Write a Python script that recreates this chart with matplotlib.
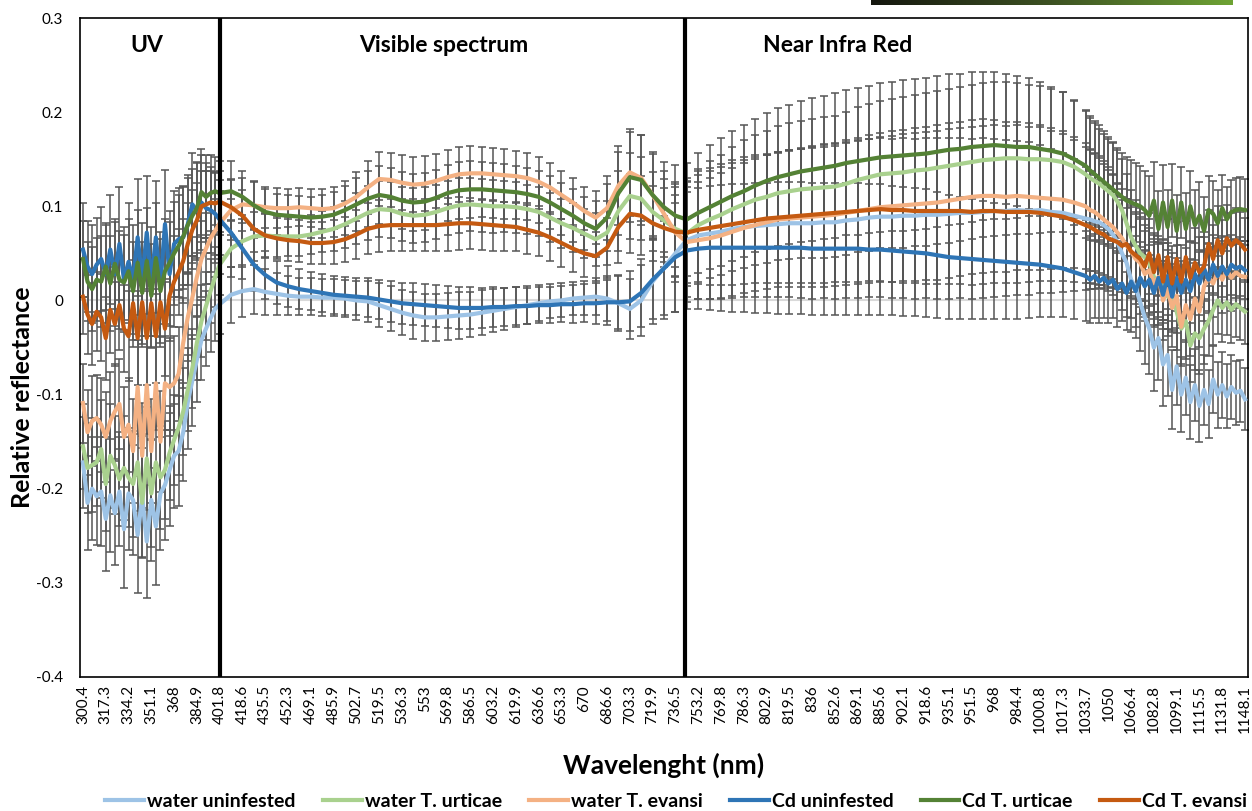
import matplotlib.pyplot as plt
import numpy as np
from matplotlib.colors import LinearSegmentedColormap

plt.rcParams['font.family'] = ['Lato', 'DejaVu Sans']

# spectrometer band index of each sample (labels every 10 bands)
channel = list(range(0, 61, 2)) + list(range(65, 441, 5)) + list(range(442, 511, 2))

wavelength_labels = ['300.4', '317.3', '334.2', '351.1', '368', '384.9', '401.8', '418.6', '435.5',
                     '452.3', '469.1', '485.9', '502.7', '519.5', '536.3', '553', '569.8', '586.5',
                     '603.2', '619.9', '636.6', '653.3', '670', '686.6', '703.3', '719.9', '736.5',
                     '753.2', '769.8', '786.3', '802.9', '819.5', '836', '852.6', '869.1', '885.6',
                     '902.1', '918.6', '935.1', '951.5', '968', '984.4', '1000.8', '1017.3', '1033.7',
                     '1050', '1066.4', '1082.8', '1099.1', '1115.5', '1131.8', '1148.1']

# ---- mean relative reflectance ----
water_uninfested = [
    -0.172, -0.215, -0.200, -0.208, -0.203, -0.232, -0.207, -0.226, -0.203, -0.243, -0.205, -0.212,
    -0.249, -0.209, -0.256, -0.212, -0.240, -0.205, -0.196, -0.180, -0.165, -0.160, -0.140, -0.108,
    -0.085, -0.063, -0.042, -0.030, -0.019, -0.009, -0.004,
    0.006, 0.010, 0.012, 0.009, 0.007, 0.005, 0.004, 0.004,
    0.003, 0.003, 0.002, 0.000, -0.001, -0.005, -0.009, -0.013,
    -0.016, -0.018, -0.018, -0.017, -0.016, -0.015, -0.013, -0.011,
    -0.009, -0.007, -0.005, -0.003, -0.001, 0.000, 0.002, 0.003,
    0.004, 0.002, -0.003, -0.009, 0.000, 0.020, 0.035, 0.050,
    0.064, 0.069, 0.071, 0.073, 0.076, 0.078, 0.079, 0.080,
    0.081, 0.082, 0.082, 0.082, 0.083, 0.083, 0.085, 0.086,
    0.088, 0.089, 0.089, 0.090, 0.090, 0.091, 0.091, 0.092,
    0.093, 0.093, 0.094, 0.095, 0.095, 0.096, 0.095, 0.096,
    0.094, 0.093, 0.090, 0.087,
    0.086, 0.084, 0.083, 0.080, 0.076, 0.070, 0.062, 0.050, 0.040, 0.022, 0.014, -0.002,
    -0.018, -0.030, -0.050, -0.040, -0.068, -0.058, -0.095, -0.070, -0.100, -0.082, -0.108, -0.090,
    -0.112, -0.095, -0.110, -0.084, -0.100, -0.090, -0.102, -0.092, -0.098, -0.096, -0.105]

water_urticae = [
    -0.155, -0.178, -0.175, -0.172, -0.158, -0.195, -0.165, -0.175, -0.190, -0.178, -0.188, -0.195,
    -0.172, -0.215, -0.168, -0.205, -0.172, -0.188, -0.180, -0.162, -0.148, -0.135, -0.118, -0.095,
    -0.072, -0.045, -0.022, -0.006, 0.010, 0.025, 0.038,
    0.055, 0.063, 0.068, 0.069, 0.068, 0.068, 0.068, 0.070,
    0.073, 0.076, 0.081, 0.087, 0.093, 0.097, 0.096, 0.092,
    0.090, 0.091, 0.094, 0.098, 0.101, 0.102, 0.101, 0.100,
    0.100, 0.099, 0.097, 0.094, 0.088, 0.082, 0.077, 0.071,
    0.065, 0.072, 0.095, 0.111, 0.108, 0.094, 0.085, 0.076,
    0.071, 0.080, 0.086, 0.091, 0.097, 0.102, 0.107, 0.110,
    0.114, 0.116, 0.118, 0.119, 0.120, 0.121, 0.124, 0.128,
    0.131, 0.134, 0.135, 0.136, 0.138, 0.139, 0.141, 0.143,
    0.145, 0.147, 0.149, 0.150, 0.151, 0.151, 0.150, 0.150,
    0.149, 0.147, 0.142, 0.134,
    0.130, 0.127, 0.124, 0.120, 0.116, 0.112, 0.105, 0.096, 0.082, 0.067, 0.058, 0.050,
    0.046, 0.040, 0.025, 0.018, 0.022, 0.004, 0.008, -0.012, -0.030, -0.022, -0.048, -0.035,
    -0.040, -0.030, -0.022, -0.010, 0.000, -0.008, -0.002, -0.010, -0.004, -0.008, -0.012]

water_evansi = [
    -0.109, -0.140, -0.128, -0.125, -0.132, -0.145, -0.128, -0.118, -0.110, -0.145, -0.132, -0.160,
    -0.092, -0.165, -0.090, -0.160, -0.088, -0.150, -0.088, -0.092, -0.088, -0.078, -0.045, -0.018,
    0.003, 0.025, 0.044, 0.055, 0.066, 0.074, 0.082,
    0.096, 0.102, 0.101, 0.099, 0.098, 0.098, 0.099, 0.098,
    0.097, 0.098, 0.103, 0.110, 0.120, 0.129, 0.128, 0.125,
    0.123, 0.124, 0.127, 0.131, 0.134, 0.135, 0.135, 0.134,
    0.133, 0.132, 0.130, 0.126, 0.120, 0.112, 0.104, 0.095,
    0.088, 0.098, 0.122, 0.136, 0.130, 0.112, 0.092, 0.072,
    0.062, 0.064, 0.066, 0.069, 0.073, 0.077, 0.080, 0.083,
    0.086, 0.087, 0.088, 0.089, 0.090, 0.091, 0.093, 0.095,
    0.097, 0.099, 0.100, 0.101, 0.102, 0.103, 0.104, 0.106,
    0.108, 0.110, 0.111, 0.111, 0.110, 0.111, 0.110, 0.109,
    0.108, 0.107, 0.104, 0.100,
    0.096, 0.094, 0.090, 0.086, 0.082, 0.078, 0.072, 0.066, 0.058, 0.052, 0.044, 0.040,
    0.028, 0.032, 0.018, 0.025, 0.000, 0.012, -0.008, 0.005, -0.028, -0.005, -0.020, 0.002,
    -0.012, 0.015, 0.024, 0.018, 0.030, 0.022, 0.032, 0.024, 0.030, 0.026, 0.025]

cd_uninfested = [
    0.054, 0.036, 0.028, 0.038, 0.044, 0.028, 0.054, 0.028, 0.060, 0.022, 0.041, 0.022,
    0.067, 0.022, 0.072, 0.020, 0.067, 0.017, 0.081, 0.028, 0.060, 0.065, 0.067, 0.081,
    0.102, 0.095, 0.104, 0.098, 0.096, 0.092, 0.086,
    0.072, 0.055, 0.038, 0.027, 0.019, 0.015, 0.012, 0.010,
    0.008, 0.006, 0.005, 0.004, 0.003, 0.001, -0.001, -0.003,
    -0.004, -0.005, -0.006, -0.007, -0.008, -0.008, -0.008, -0.007,
    -0.007, -0.006, -0.006, -0.005, -0.005, -0.004, -0.004, -0.003,
    -0.003, -0.002, -0.002, -0.001, 0.008, 0.022, 0.034, 0.046,
    0.053, 0.055, 0.056, 0.056, 0.056, 0.056, 0.056, 0.056,
    0.056, 0.056, 0.056, 0.055, 0.055, 0.055, 0.055, 0.055,
    0.054, 0.054, 0.053, 0.052, 0.051, 0.050, 0.048, 0.046,
    0.045, 0.044, 0.043, 0.042, 0.041, 0.040, 0.039, 0.038,
    0.036, 0.034, 0.030, 0.026,
    0.022, 0.026, 0.020, 0.024, 0.018, 0.022, 0.012, 0.018, 0.008, 0.020, 0.010, 0.024,
    0.015, 0.022, 0.008, 0.024, 0.006, 0.026, 0.004, 0.024, 0.008, 0.022, 0.010, 0.028,
    0.018, 0.034, 0.022, 0.038, 0.026, 0.036, 0.028, 0.038, 0.034, 0.036, 0.032]

cd_urticae = [
    0.044, 0.020, 0.012, 0.022, 0.020, 0.036, 0.018, 0.039, 0.022, 0.019, 0.031, 0.010,
    0.040, 0.008, 0.042, 0.005, 0.045, 0.010, 0.031, 0.040, 0.050, 0.058, 0.068, 0.080,
    0.090, 0.098, 0.115, 0.110, 0.114, 0.116, 0.114,
    0.116, 0.110, 0.101, 0.094, 0.091, 0.090, 0.089, 0.088,
    0.089, 0.091, 0.096, 0.102, 0.108, 0.112, 0.110, 0.106,
    0.104, 0.105, 0.109, 0.114, 0.117, 0.118, 0.118, 0.117,
    0.116, 0.115, 0.113, 0.110, 0.104, 0.097, 0.090, 0.082,
    0.076, 0.088, 0.114, 0.131, 0.128, 0.112, 0.099, 0.090,
    0.086, 0.093, 0.099, 0.105, 0.111, 0.116, 0.122, 0.127,
    0.131, 0.134, 0.137, 0.139, 0.141, 0.143, 0.146, 0.148,
    0.150, 0.152, 0.153, 0.154, 0.155, 0.156, 0.158, 0.160,
    0.161, 0.163, 0.164, 0.165, 0.164, 0.163, 0.163, 0.161,
    0.159, 0.156, 0.150, 0.143,
    0.138, 0.134, 0.130, 0.126, 0.122, 0.118, 0.114, 0.110, 0.106, 0.104, 0.102, 0.100,
    0.096, 0.090, 0.106, 0.076, 0.104, 0.078, 0.106, 0.074, 0.104, 0.076, 0.100, 0.080,
    0.090, 0.074, 0.096, 0.092, 0.082, 0.098, 0.086, 0.094, 0.096, 0.097, 0.096]

cd_evansi = [
    0.004, -0.015, -0.025, -0.012, -0.018, -0.040, -0.010, -0.025, -0.005, -0.030, -0.038, -0.003,
    -0.040, -0.002, -0.040, -0.003, -0.038, -0.002, -0.030, 0.005, 0.020, 0.030, 0.042, 0.060,
    0.075, 0.085, 0.100, 0.102, 0.104, 0.103, 0.105,
    0.099, 0.090, 0.076, 0.069, 0.066, 0.064, 0.063, 0.061,
    0.061, 0.062, 0.065, 0.070, 0.076, 0.079, 0.080, 0.080,
    0.080, 0.080, 0.080, 0.081, 0.082, 0.082, 0.081, 0.080,
    0.079, 0.078, 0.075, 0.072, 0.067, 0.061, 0.055, 0.050,
    0.047, 0.056, 0.078, 0.092, 0.090, 0.082, 0.077, 0.073,
    0.072, 0.075, 0.077, 0.079, 0.081, 0.083, 0.085, 0.087,
    0.088, 0.089, 0.090, 0.091, 0.092, 0.093, 0.094, 0.095,
    0.096, 0.097, 0.096, 0.096, 0.095, 0.095, 0.095, 0.095,
    0.095, 0.094, 0.095, 0.095, 0.094, 0.094, 0.094, 0.093,
    0.091, 0.089, 0.085, 0.080,
    0.078, 0.075, 0.072, 0.070, 0.066, 0.064, 0.062, 0.058, 0.060, 0.052, 0.048, 0.044,
    0.036, 0.050, 0.030, 0.048, 0.020, 0.046, 0.018, 0.044, 0.020, 0.046, 0.024, 0.040,
    0.030, 0.036, 0.060, 0.044, 0.064, 0.050, 0.066, 0.058, 0.064, 0.060, 0.054]

# ---- error bars (half length) ----
err_water_uninfested = [
    0.048, 0.050, 0.055, 0.052, 0.058, 0.055, 0.060, 0.055, 0.058, 0.062, 0.060, 0.058,
    0.062, 0.065, 0.060, 0.065, 0.062, 0.060, 0.058, 0.060, 0.055, 0.058, 0.052, 0.050,
    0.048, 0.045, 0.042, 0.040, 0.036, 0.034, 0.032,
    0.030, 0.028, 0.026, 0.024, 0.022, 0.021, 0.020, 0.020,
    0.020, 0.020, 0.020, 0.021, 0.022, 0.023, 0.024, 0.024,
    0.025, 0.025, 0.025, 0.025, 0.025, 0.024, 0.024, 0.023,
    0.022, 0.021, 0.020, 0.019, 0.018, 0.018, 0.018, 0.018,
    0.020, 0.024, 0.030, 0.032, 0.038, 0.045, 0.055, 0.062,
    0.066, 0.068, 0.070, 0.072, 0.073, 0.074, 0.075, 0.076,
    0.077, 0.078, 0.079, 0.080, 0.080, 0.081, 0.082, 0.083,
    0.084, 0.085, 0.086, 0.087, 0.088, 0.088, 0.089, 0.090,
    0.090, 0.091, 0.091, 0.091, 0.090, 0.090, 0.089, 0.088,
    0.086, 0.084, 0.080, 0.076,
    0.074, 0.072, 0.070, 0.068, 0.066, 0.064, 0.062, 0.060, 0.058, 0.056, 0.054, 0.052,
    0.050, 0.048, 0.046, 0.045, 0.044, 0.043, 0.042, 0.041, 0.040, 0.040, 0.039, 0.038,
    0.038, 0.037, 0.036, 0.036, 0.035, 0.035, 0.034, 0.034, 0.034, 0.033, 0.033]

err_water_urticae = [
    0.045, 0.048, 0.050, 0.046, 0.052, 0.050, 0.055, 0.052, 0.050, 0.055, 0.053, 0.056,
    0.052, 0.058, 0.055, 0.057, 0.054, 0.055, 0.052, 0.050, 0.048, 0.050, 0.046, 0.044,
    0.042, 0.040, 0.038, 0.036, 0.034, 0.032, 0.032,
    0.030, 0.028, 0.026, 0.024, 0.022, 0.021, 0.021, 0.021,
    0.022, 0.023, 0.025, 0.027, 0.029, 0.030, 0.030, 0.029,
    0.029, 0.029, 0.029, 0.029, 0.029, 0.028, 0.028, 0.028,
    0.027, 0.027, 0.026, 0.026, 0.026, 0.026, 0.026, 0.026,
    0.028, 0.034, 0.042, 0.046, 0.044, 0.042, 0.044, 0.050,
    0.056, 0.060, 0.062, 0.064, 0.066, 0.068, 0.069, 0.070,
    0.071, 0.072, 0.073, 0.074, 0.075, 0.075, 0.076, 0.077,
    0.078, 0.078, 0.079, 0.080, 0.080, 0.081, 0.081, 0.082,
    0.082, 0.082, 0.082, 0.082, 0.081, 0.080, 0.079, 0.078,
    0.076, 0.074, 0.071, 0.068,
    0.066, 0.064, 0.062, 0.060, 0.058, 0.056, 0.055, 0.054, 0.052, 0.050, 0.049, 0.048,
    0.047, 0.046, 0.045, 0.044, 0.043, 0.042, 0.042, 0.041, 0.040, 0.040, 0.039, 0.039,
    0.038, 0.038, 0.037, 0.037, 0.036, 0.036, 0.035, 0.035, 0.035, 0.034, 0.034]

err_water_evansi = [
    0.042, 0.045, 0.048, 0.046, 0.050, 0.048, 0.052, 0.050, 0.048, 0.053, 0.050, 0.055,
    0.050, 0.056, 0.052, 0.055, 0.050, 0.054, 0.050, 0.052, 0.050, 0.050, 0.048, 0.046,
    0.044, 0.042, 0.040, 0.038, 0.036, 0.034, 0.034,
    0.032, 0.028, 0.025, 0.022, 0.021, 0.020, 0.020, 0.020,
    0.021, 0.022, 0.024, 0.026, 0.028, 0.029, 0.029, 0.029,
    0.029, 0.029, 0.029, 0.029, 0.029, 0.029, 0.028, 0.028,
    0.028, 0.027, 0.027, 0.026, 0.026, 0.026, 0.026, 0.026,
    0.028, 0.034, 0.042, 0.046, 0.046, 0.044, 0.046, 0.052,
    0.058, 0.062, 0.064, 0.066, 0.068, 0.069, 0.070, 0.071,
    0.072, 0.073, 0.074, 0.075, 0.076, 0.076, 0.077, 0.078,
    0.079, 0.079, 0.080, 0.080, 0.081, 0.081, 0.082, 0.082,
    0.082, 0.082, 0.082, 0.081, 0.080, 0.079, 0.078, 0.077,
    0.075, 0.073, 0.070, 0.067,
    0.065, 0.063, 0.061, 0.059, 0.057, 0.055, 0.053, 0.052, 0.050, 0.049, 0.048, 0.047,
    0.046, 0.045, 0.044, 0.043, 0.042, 0.042, 0.041, 0.040, 0.040, 0.039, 0.039, 0.038,
    0.038, 0.037, 0.037, 0.036, 0.036, 0.035, 0.035, 0.035, 0.034, 0.034, 0.034]

err_cd_uninfested = [
    0.050, 0.048, 0.052, 0.050, 0.055, 0.052, 0.058, 0.055, 0.060, 0.056, 0.062, 0.058,
    0.062, 0.060, 0.060, 0.058, 0.060, 0.056, 0.058, 0.055, 0.056, 0.054, 0.055, 0.052,
    0.055, 0.052, 0.050, 0.048, 0.046, 0.044, 0.042,
    0.036, 0.032, 0.028, 0.025, 0.023, 0.022, 0.021, 0.020,
    0.020, 0.020, 0.020, 0.020, 0.021, 0.021, 0.022, 0.022,
    0.022, 0.022, 0.022, 0.022, 0.022, 0.022, 0.021, 0.021,
    0.020, 0.020, 0.019, 0.019, 0.019, 0.019, 0.020, 0.020,
    0.022, 0.024, 0.028, 0.032, 0.036, 0.042, 0.050, 0.058,
    0.062, 0.064, 0.066, 0.067, 0.068, 0.068, 0.069, 0.069,
    0.070, 0.070, 0.070, 0.070, 0.070, 0.070, 0.070, 0.070,
    0.070, 0.070, 0.069, 0.069, 0.068, 0.068, 0.067, 0.066,
    0.065, 0.064, 0.063, 0.062, 0.061, 0.060, 0.058, 0.056,
    0.054, 0.052, 0.050, 0.048,
    0.046, 0.045, 0.044, 0.043, 0.042, 0.041, 0.040, 0.040, 0.039, 0.039, 0.038, 0.038,
    0.037, 0.037, 0.036, 0.036, 0.036, 0.035, 0.035, 0.035, 0.034, 0.034, 0.034, 0.033,
    0.033, 0.033, 0.033, 0.032, 0.032, 0.032, 0.032, 0.032, 0.031, 0.031, 0.031]

err_cd_urticae = [
    0.040, 0.042, 0.045, 0.044, 0.048, 0.046, 0.050, 0.048, 0.052, 0.050, 0.055, 0.052,
    0.056, 0.054, 0.056, 0.055, 0.058, 0.055, 0.056, 0.055, 0.055, 0.054, 0.052, 0.050,
    0.050, 0.048, 0.046, 0.044, 0.040, 0.036, 0.034,
    0.032, 0.028, 0.026, 0.024, 0.022, 0.022, 0.022, 0.022,
    0.023, 0.024, 0.026, 0.028, 0.030, 0.031, 0.031, 0.030,
    0.030, 0.030, 0.030, 0.030, 0.030, 0.030, 0.029, 0.029,
    0.029, 0.028, 0.028, 0.028, 0.028, 0.028, 0.028, 0.028,
    0.030, 0.036, 0.044, 0.048, 0.048, 0.046, 0.048, 0.054,
    0.060, 0.064, 0.066, 0.068, 0.069, 0.070, 0.071, 0.072,
    0.073, 0.074, 0.075, 0.076, 0.076, 0.077, 0.077, 0.078,
    0.078, 0.079, 0.079, 0.080, 0.080, 0.080, 0.080, 0.080,
    0.080, 0.080, 0.079, 0.078, 0.077, 0.075, 0.073, 0.071,
    0.068, 0.065, 0.062, 0.058,
    0.056, 0.054, 0.052, 0.051, 0.050, 0.049, 0.048, 0.047, 0.046, 0.045, 0.044, 0.043,
    0.042, 0.042, 0.041, 0.040, 0.040, 0.039, 0.039, 0.038, 0.038, 0.038, 0.037, 0.037,
    0.036, 0.036, 0.036, 0.035, 0.035, 0.035, 0.034, 0.034, 0.034, 0.034, 0.033]

err_cd_evansi = [
    0.040, 0.042, 0.044, 0.042, 0.046, 0.044, 0.046, 0.045, 0.048, 0.046, 0.048, 0.046,
    0.050, 0.048, 0.050, 0.048, 0.050, 0.048, 0.050, 0.048, 0.048, 0.046, 0.045, 0.044,
    0.042, 0.040, 0.038, 0.036, 0.034, 0.032, 0.032,
    0.030, 0.027, 0.025, 0.023, 0.022, 0.022, 0.022, 0.022,
    0.022, 0.023, 0.024, 0.026, 0.027, 0.028, 0.028, 0.028,
    0.028, 0.028, 0.028, 0.028, 0.028, 0.027, 0.027, 0.027,
    0.026, 0.026, 0.026, 0.025, 0.025, 0.025, 0.025, 0.025,
    0.026, 0.032, 0.038, 0.042, 0.042, 0.040, 0.042, 0.048,
    0.054, 0.058, 0.061, 0.063, 0.065, 0.066, 0.067, 0.068,
    0.069, 0.070, 0.071, 0.072, 0.073, 0.073, 0.074, 0.075,
    0.075, 0.076, 0.076, 0.077, 0.077, 0.078, 0.078, 0.078,
    0.078, 0.078, 0.078, 0.077, 0.076, 0.075, 0.074, 0.072,
    0.070, 0.068, 0.065, 0.062,
    0.060, 0.058, 0.056, 0.054, 0.052, 0.051, 0.050, 0.049, 0.048, 0.047, 0.046, 0.045,
    0.044, 0.043, 0.042, 0.042, 0.041, 0.040, 0.040, 0.039, 0.039, 0.038, 0.038, 0.037,
    0.037, 0.037, 0.036, 0.036, 0.036, 0.035, 0.035, 0.035, 0.034, 0.034, 0.034]

series = [
    ('water uninfested', water_uninfested, err_water_uninfested, '#9DC3E6'),
    ('water T. urticae', water_urticae, err_water_urticae, '#A9D18E'),
    ('water T. evansi', water_evansi, err_water_evansi, '#F4B183'),
    ('Cd uninfested', cd_uninfested, err_cd_uninfested, '#2E75B6'),
    ('Cd T. urticae', cd_urticae, err_cd_urticae, '#548235'),
    ('Cd T. evansi', cd_evansi, err_cd_evansi, '#C55A11'),
]


def reflectance_graph():
    fig = plt.figure(figsize=(12.52, 8.11), dpi=100)
    ax = fig.add_axes([80 / 1252, 134 / 811, 1168 / 1252, 659 / 811])

    ax.axhline(0, color='#D9D9D9', linewidth=1.5, zorder=1)

    for name, vals, err, col in series:
        ax.errorbar(channel, vals, yerr=err, fmt='none', ecolor='#555555',
                    elinewidth=1.1, capsize=2.8, capthick=1.1, zorder=2)
    for name, vals, err, col in series:
        ax.plot(channel, vals, color=col, linewidth=3, label=name, zorder=3)

    # region borders
    ax.axvline(60, color='black', linewidth=3, zorder=5)
    ax.axvline(264, color='black', linewidth=3, zorder=5)
    for xf, txt in [(0.0574, 'UV'), (0.3116, 'Visible spectrum'), (0.649, 'Near Infra Red')]:
        ax.text(xf, 0.958, txt, transform=ax.transAxes, ha='center', va='center',
                fontsize=16.5, fontweight='bold')

    ax.set_xlim(-1.3, 511.3)
    ax.set_ylim(-0.4, 0.3)
    ax.set_xticks(range(0, 511, 10))
    ax.set_xticklabels(wavelength_labels, rotation=90, fontsize=11)
    ax.set_yticks([-0.4, -0.3, -0.2, -0.1, 0, 0.1, 0.2, 0.3])
    ax.set_yticklabels(['-0.4', '-0.3', '-0.2', '-0.1', '0', '0.1', '0.2', '0.3'], fontsize=11)
    ax.tick_params(axis='both', length=0)
    ax.tick_params(axis='y', pad=12)
    ax.tick_params(axis='x', pad=6)
    for sp in ax.spines.values():
        sp.set_linewidth(1.2)

    ax.set_xlabel('Wavelenght (nm)', fontsize=19, fontweight='bold', labelpad=14)
    ax.set_ylabel('Relative reflectance', fontsize=18, fontweight='bold')
    ax.yaxis.set_label_coords(-0.039, 0.425)

    fig.legend(loc='center', bbox_to_anchor=(0.54, 0.012), ncol=6, frameon=False,
               prop={'size': 14, 'weight': 'bold'}, handlelength=2.0, handletextpad=0.15,
               columnspacing=1.4)

    # decorative bar at the top edge
    bar = fig.add_axes([871 / 1252, 806 / 811, 362 / 1252, 5 / 811])
    grad = np.linspace(0, 1, 256).reshape(1, -1)
    cmap = LinearSegmentedColormap.from_list('bar', ['#15170f', '#3d5222', '#6ea334'])
    bar.imshow(grad, aspect='auto', cmap=cmap)
    bar.axis('off')

    fig.savefig('out.png', dpi=100)


reflectance_graph()
